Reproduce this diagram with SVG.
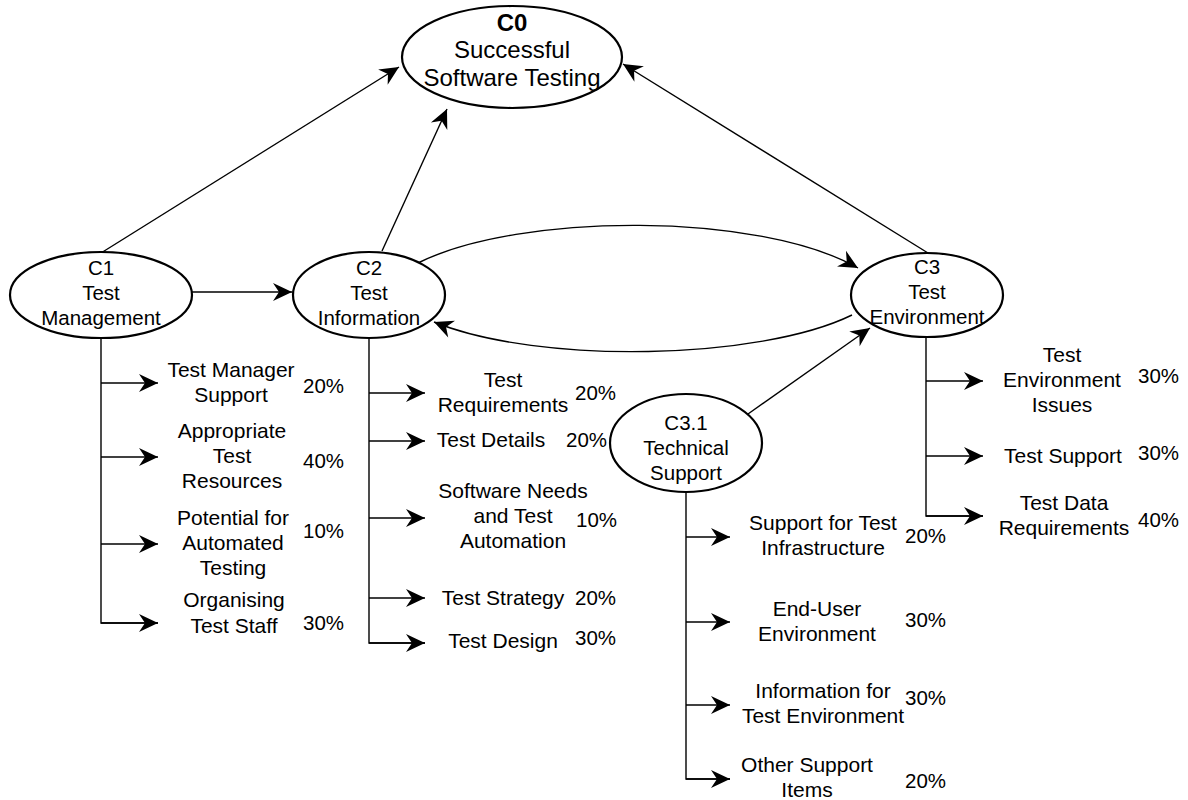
<svg xmlns="http://www.w3.org/2000/svg" width="1188" height="800" viewBox="0 0 1188 800">
  <style>
    .node { fill: #ffffff; stroke: #000000; stroke-width: 2.2; }
    .edge { fill: none; stroke: #000000; stroke-width: 1.4; }
    .arrow { fill: none; stroke: #000000; stroke-width: 1.4; marker-end: url(#head); }
    text { font-family: "Liberation Sans", Arial, sans-serif; fill: #000000; }
    .n { font-size: 20.5px; text-anchor: middle; }
    .t { font-size: 21px; text-anchor: middle; }
    .p { font-size: 20.5px; }
    .big { font-size: 24px; text-anchor: middle; }
  </style>
  <defs>
    <marker id="head" markerUnits="userSpaceOnUse" orient="auto" markerWidth="24" markerHeight="22" refX="0" refY="0" viewBox="-21 -11 22 22" overflow="visible">
      <path d="M0,0 L-19,-9 L-13,0 L-19,9 Z" fill="#000000"/>
    </marker>
  </defs>

  <rect width="1188" height="800" fill="#ffffff"/>

  <!-- connectors between the criteria -->
  <g id="connectors">
    <line class="arrow" x1="101" y1="253" x2="399" y2="67"/>
    <line class="arrow" x1="382" y1="251" x2="447" y2="109"/>
    <line class="arrow" x1="928" y1="253" x2="623" y2="64"/>
    <line class="arrow" x1="192" y1="292" x2="292" y2="292"/>
    <path class="arrow" d="M418,263 C520,212 760,212 858,268"/>
    <path class="arrow" d="M852,315 C760,360 540,365 434,322"/>
    <line class="arrow" x1="748" y1="414" x2="870" y2="328"/>

    <!-- C1 branches -->
    <polyline class="edge" points="101,338 101,623 158,623"/>
    <line class="arrow" x1="101" y1="383" x2="158" y2="383"/>
    <line class="arrow" x1="101" y1="457" x2="158" y2="457"/>
    <line class="arrow" x1="101" y1="544" x2="158" y2="544"/>
    <line class="arrow" x1="101" y1="623" x2="158" y2="623"/>

    <!-- C2 branches -->
    <polyline class="edge" points="369,338 369,643 425,643"/>
    <line class="arrow" x1="369" y1="393" x2="425" y2="393"/>
    <line class="arrow" x1="369" y1="441" x2="425" y2="441"/>
    <line class="arrow" x1="369" y1="518" x2="425" y2="518"/>
    <line class="arrow" x1="369" y1="598" x2="425" y2="598"/>
    <line class="arrow" x1="369" y1="643" x2="425" y2="643"/>

    <!-- C3 branches -->
    <polyline class="edge" points="926,337 926,516 983,516"/>
    <line class="arrow" x1="926" y1="381" x2="983" y2="381"/>
    <line class="arrow" x1="926" y1="456" x2="983" y2="456"/>
    <line class="arrow" x1="926" y1="516" x2="983" y2="516"/>

    <!-- C3.1 branches -->
    <polyline class="edge" points="686,493 686,779 730,779"/>
    <line class="arrow" x1="686" y1="537" x2="730" y2="537"/>
    <line class="arrow" x1="686" y1="622" x2="730" y2="622"/>
    <line class="arrow" x1="686" y1="705" x2="730" y2="705"/>
    <line class="arrow" x1="686" y1="779" x2="730" y2="779"/>
  </g>

  <!-- main criteria -->
  <g id="C0">
    <ellipse class="node" cx="512" cy="57" rx="110" ry="51"/>
    <text class="big" x="512" y="31" font-weight="bold">C0</text>
    <text class="big" x="512" y="58">Successful</text>
    <text class="big" x="512" y="86">Software Testing</text>
  </g>

  <g id="C1">
    <ellipse class="node" cx="101" cy="295" rx="91" ry="43"/>
    <text class="n" x="101" y="275">C1</text>
    <text class="n" x="101" y="300">Test</text>
    <text class="n" x="101" y="325">Management</text>
  </g>

  <g id="C2">
    <ellipse class="node" cx="369" cy="295" rx="76" ry="43"/>
    <text class="n" x="369" y="275">C2</text>
    <text class="n" x="369" y="300">Test</text>
    <text class="n" x="369" y="325">Information</text>
  </g>

  <g id="C3">
    <ellipse class="node" cx="927" cy="295" rx="76" ry="42"/>
    <text class="n" x="927" y="274">C3</text>
    <text class="n" x="927" y="299">Test</text>
    <text class="n" x="927" y="324">Environment</text>
  </g>

  <g id="C3.1">
    <ellipse class="node" cx="686" cy="443" rx="76" ry="49"/>
    <text class="n" x="686" y="430">C3.1</text>
    <text class="n" x="686" y="455">Technical</text>
    <text class="n" x="686" y="480">Support</text>
  </g>

  <!-- C1 sub-criteria -->
  <g id="C1-1">
    <text class="t" x="231" y="377">Test Manager</text>
    <text class="t" x="231" y="402">Support</text>
    <text class="p" x="303" y="393">20%</text>
  </g>
  <g id="C1-2">
    <text class="t" x="232" y="438">Appropriate</text>
    <text class="t" x="232" y="463">Test</text>
    <text class="t" x="232" y="488">Resources</text>
    <text class="p" x="303" y="468">40%</text>
  </g>
  <g id="C1-3">
    <text class="t" x="233" y="525">Potential for</text>
    <text class="t" x="233" y="550">Automated</text>
    <text class="t" x="233" y="575">Testing</text>
    <text class="p" x="303" y="538">10%</text>
  </g>
  <g id="C1-4">
    <text class="t" x="234" y="607">Organising</text>
    <text class="t" x="234" y="633">Test Staff</text>
    <text class="p" x="303" y="630">30%</text>
  </g>

  <!-- C2 sub-criteria -->
  <g id="C2-1">
    <text class="t" x="503" y="387">Test</text>
    <text class="t" x="503" y="412">Requirements</text>
    <text class="p" x="575" y="400">20%</text>
  </g>
  <g id="C2-2">
    <text class="t" x="491" y="447">Test Details</text>
    <text class="p" x="566" y="447">20%</text>
  </g>
  <g id="C2-3">
    <text class="t" x="513" y="498">Software Needs</text>
    <text class="t" x="513" y="523">and Test</text>
    <text class="t" x="513" y="548">Automation</text>
    <text class="p" x="576" y="527">10%</text>
  </g>
  <g id="C2-4">
    <text class="t" x="503" y="605">Test Strategy</text>
    <text class="p" x="575" y="605">20%</text>
  </g>
  <g id="C2-5">
    <text class="t" x="503" y="648">Test Design</text>
    <text class="p" x="575" y="645">30%</text>
  </g>

  <!-- C3 sub-criteria -->
  <g id="C3-1">
    <text class="t" x="1062" y="362">Test</text>
    <text class="t" x="1062" y="387">Environment</text>
    <text class="t" x="1062" y="412">Issues</text>
    <text class="p" x="1138" y="383">30%</text>
  </g>
  <g id="C3-2">
    <text class="t" x="1063" y="463">Test Support</text>
    <text class="p" x="1138" y="460">30%</text>
  </g>
  <g id="C3-3">
    <text class="t" x="1064" y="510">Test Data</text>
    <text class="t" x="1064" y="535">Requirements</text>
    <text class="p" x="1138" y="527">40%</text>
  </g>

  <!-- C3.1 sub-criteria -->
  <g id="C3.1-1">
    <text class="t" x="823" y="530">Support for Test</text>
    <text class="t" x="823" y="555">Infrastructure</text>
    <text class="p" x="905" y="543">20%</text>
  </g>
  <g id="C3.1-2">
    <text class="t" x="817" y="616">End-User</text>
    <text class="t" x="817" y="641">Environment</text>
    <text class="p" x="905" y="627">30%</text>
  </g>
  <g id="C3.1-3">
    <text class="t" x="823" y="698">Information for</text>
    <text class="t" x="823" y="723">Test Environment</text>
    <text class="p" x="905" y="705">30%</text>
  </g>
  <g id="C3.1-4">
    <text class="t" x="807" y="772">Other Support</text>
    <text class="t" x="807" y="797">Items</text>
    <text class="p" x="905" y="788">20%</text>
  </g>
</svg>
